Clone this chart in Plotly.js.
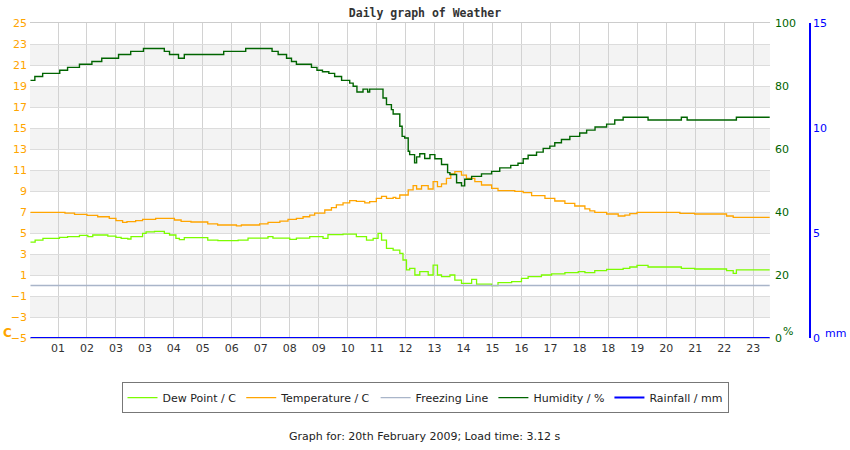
<!DOCTYPE html>
<html>
<head>
<meta charset="utf-8">
<script src="https://cdn.plot.ly/plotly-3.0.1.min.js"></script>
<style>
  html, body { margin: 0; padding: 0; background: #ffffff; }
  #chart { width: 850px; height: 450px; }
</style>
</head>
<body>
<div id="chart"></div>
<script>
// ─── Data (x in grid units: gridline k carries hourLabels[k-1]) ─────────────

const hourLabels = ['01', '02', '03', '03', '04', '05', '06', '07', '08', '09', '10', '11', '12',
                    '13', '14', '15', '16', '17', '18', '18', '19', '20', '21', '22', '23'];

const humTime = [0.05, 0.20, 0.47, 1.06, 1.33, 1.74, 2.17, 2.51, 3.09, 3.51, 3.95, 4.67, 4.85,
                 5.16, 5.36, 6.72, 7.48, 8.39, 8.60, 8.89, 9.06, 9.23, 9.75, 9.94, 10.13, 10.35,
                 10.55, 10.79, 11.07, 11.19, 11.32, 11.53, 11.69, 11.76, 12.22, 12.34, 12.51,
                 12.57, 12.80, 12.88, 12.97, 13.09, 13.14, 13.31, 13.38, 13.49, 13.66, 13.84,
                 14.01, 14.24, 14.45, 14.53, 14.76, 14.93, 15.04, 15.28, 15.62, 15.97, 16.25,
                 16.63, 16.88, 17.06, 17.23, 17.52, 17.75, 17.98, 18.15, 18.38, 18.67, 19.01,
                 19.25, 19.54, 19.94, 20.22, 20.51, 21.37, 22.52, 22.72, 24.42, 25.57];
const humValues = [81.8, 83.0, 84.0, 85.0, 85.9, 86.9, 87.8, 88.8, 90.0, 91.0, 91.9, 91.0, 90.0,
                   88.8, 90.0, 91.0, 91.9, 91.0, 90.0, 88.8, 87.8, 86.9, 85.9, 85.0, 84.5, 84.0,
                   83.0, 81.8, 80.9, 79.9, 78.1, 79.0, 78.1, 79.0, 76.2, 74.1, 72.5,
                   71.1, 67.2, 64.0, 63.5, 59.3, 58.2, 55.6, 57.5, 58.5, 57.0, 58.2,
                   56.9, 55.1, 52.5, 51.9, 49.3, 48.3, 50.4, 51.3, 52.1, 52.9, 54.0,
                   54.8, 55.5, 56.9, 58.0, 59.0, 60.2, 60.9, 62.0, 63.0, 64.0, 65.1,
                   66.0, 67.0, 67.9, 69.2, 70.1, 69.2, 70.1, 69.2, 70.1, 70.1];

const tempTime = [0.05, 1.24, 1.57, 2.00, 2.37, 2.77, 3.00, 3.23, 3.38, 3.68, 3.92, 4.37, 5.02,
                  5.25, 5.59, 6.17, 6.51, 7.16, 7.33, 7.96, 8.25, 8.66, 8.94, 9.23, 9.46, 9.69,
                  9.86, 10.21, 10.44, 10.61, 10.84, 11.07, 11.30, 11.59, 11.76, 11.99, 12.17,
                  12.34, 12.57, 12.66, 12.80, 13.09, 13.26, 13.38, 13.55, 13.78, 13.95, 14.10,
                  14.24, 14.41, 14.56, 14.70, 14.93, 15.10, 15.39, 15.62, 15.97, 16.19, 16.77,
                  17.06, 17.35, 17.81, 18.15, 18.50, 18.84, 19.19, 19.36, 19.53, 19.94, 20.34,
                  20.57, 20.74, 20.99, 22.47, 22.98, 24.08, 24.31, 25.57];
const tempValues = [6.97, 6.90, 6.78, 6.68, 6.55, 6.40, 6.17, 6.02, 6.08, 6.17, 6.29, 6.40, 6.24,
                    6.11, 6.05, 5.86, 5.76, 5.67, 5.76, 5.86, 6.02, 6.14, 6.30, 6.40, 6.55, 6.71,
                    6.90, 7.19, 7.41, 7.67, 7.86, 8.08, 8.02, 7.86, 7.98, 8.30, 8.49,
                    8.30, 8.40, 8.30, 8.62, 9.10, 9.51, 9.19, 9.51, 9.19, 9.89, 9.41,
                    9.67, 10.21, 10.62, 10.84, 10.52, 10.21, 9.89, 9.57, 9.25, 9.03, 8.97,
                    8.84, 8.56, 8.30, 8.05, 7.83, 7.57, 7.29, 7.10, 6.97, 6.81, 6.62,
                    6.71, 6.84, 6.97, 6.87, 6.81, 6.62, 6.49, 6.49];

const dewTime = [0.05, 0.21, 0.48, 1.05, 1.33, 1.74, 2.03, 2.20, 2.72, 3.00, 3.18, 3.41, 3.52,
                 3.92, 4.04, 4.33, 4.67, 4.85, 5.07, 5.19, 5.36, 6.17, 6.52, 7.22, 7.56, 8.25,
                 8.42, 9.00, 9.23, 9.69, 10.15, 10.32, 10.84, 11.30, 11.65, 11.88, 12.05, 12.17,
                 12.34, 12.57, 12.80, 12.91, 13.03, 13.14, 13.32, 13.49, 13.78, 13.95, 14.10,
                 14.24, 14.53, 14.70, 14.93, 15.28, 15.45, 15.97, 16.19, 16.66, 17.00, 17.23,
                 17.69, 18.04, 18.50, 18.96, 19.19, 19.53, 19.94, 20.51, 20.74, 20.99, 21.37,
                 22.52, 22.98, 24.08, 24.31, 24.42, 25.57];
const dewValues = [4.14, 4.33, 4.49, 4.59, 4.65, 4.78, 4.65, 4.81, 4.71, 4.59, 4.49, 4.43, 4.65,
                   4.97, 5.10, 5.16, 4.97, 4.81, 4.49, 4.37, 4.56, 4.33, 4.27, 4.33, 4.52, 4.65,
                   4.52, 4.40, 4.52, 4.65, 4.49, 4.84, 4.90, 4.65, 4.33, 4.49, 4.97, 4.33,
                   3.53, 3.37, 3.06, 2.43, 1.48, 1.63, 1.00, 1.32, 1.00, 1.95, 1.00,
                   0.84, 1.00, 0.52, 0.21, 0.59, 0.14, -0.02, 0.27, 0.37, 0.68, 0.84,
                   1.00, 1.10, 1.22, 1.32, 1.22, 1.41, 1.54, 1.63, 1.76, 1.92, 1.76,
                   1.63, 1.57, 1.41, 1.16, 1.48, 1.48];

const freezeTime = [0.05, 25.57];
const freezeValues = [0, 0];
const rainTime = [0.05, 25.57];
const rainValues = [0, 0];

const tempTicks = [-5, -3, -1, 1, 3, 5, 7, 9, 11, 13, 15, 17, 19, 21, 23, 25];
const humTicks = [0, 20, 40, 60, 80, 100];
const rainTicks = [0, 5, 10, 15];

// ─── Traces ──────────────────────────────────────────────────────────────────

const FONT = 'DejaVu Sans, sans-serif';
const X_DOMAIN_END = 0.9367;

function stepLine(x, y, name, color, axis, width) {
    return {
        type: 'scatter', mode: 'lines',
        x: x, y: y, name: name, yaxis: axis,
        line: { color: color, width: width, shape: 'hv' },
    };
}

const traces = [
    stepLine(dewTime, dewValues, 'Dew Point / C', '#7cfc00', 'y', 1.3),
    stepLine(tempTime, tempValues, 'Temperature / C', '#ffa500', 'y', 1.3),
    stepLine(freezeTime, freezeValues, 'Freezing Line', '#a9b5c9', 'y', 1.3),
    stepLine(humTime, humValues, 'Humidity / %', '#006400', 'y2', 1.4),
    stepLine(rainTime, rainValues, 'Rainfall / mm', '#0000ff', 'y3', 2),
];

// Alternating grey bands between gridlines (23–21, 19–17, ...)
const shapes = [];
for (let v = 23; v > -5; v -= 4) {
    shapes.push({
        type: 'rect', xref: 'paper', yref: 'y', layer: 'below',
        x0: 0, x1: X_DOMAIN_END, y0: v - 2, y1: v,
        fillcolor: '#f3f3f3', line: { width: 0 },
    });
}

function note(text, x, y, color, size) {
    return {
        text: text, xref: 'paper', yref: 'paper', x: x, y: y,
        xanchor: 'center', yanchor: 'middle', showarrow: false,
        font: { family: FONT, size: size, color: color },
    };
}

// ─── Layout ──────────────────────────────────────────────────────────────────

const layout = {
    width: 850, height: 450,
    paper_bgcolor: '#ffffff',
    plot_bgcolor: '#ffffff',
    font: { family: FONT, size: 11, color: '#333333' },
    margin: { l: 30, r: 30, t: 23, b: 112 },
    showlegend: true,
    title: {
        text: '<b>Daily graph of Weather</b>',
        font: { family: 'DejaVu Sans Mono, monospace', size: 11.5, color: '#333333' },
        x: 0.5, xanchor: 'center', y: 0.972, yanchor: 'middle',
    },
    legend: {
        orientation: 'h', x: 0.5, xanchor: 'center', y: -0.14, yanchor: 'top',
        bordercolor: '#777777', borderwidth: 1, bgcolor: '#ffffff',
        font: { family: FONT, size: 11, color: '#222222' },
        itemwidth: 30, traceorder: 'normal',
    },
    xaxis: {
        domain: [0, X_DOMAIN_END],
        range: [0.033, 25.58],
        tickvals: hourLabels.map((_, i) => i + 1),
        ticktext: hourLabels,
        showgrid: true, gridcolor: '#d2d2d2', gridwidth: 1,
        zeroline: false,
        showline: true, linecolor: '#cccccc', mirror: true,
        ticks: '', tickfont: { size: 11, color: '#333333' },
    },
    yaxis: {
        range: [-5, 25],
        tickvals: tempTicks,
        showgrid: true, gridcolor: '#dcdcdc', gridwidth: 1,
        zeroline: false,
        showline: false,
        ticks: '', ticklabelstandoff: 2,
        tickfont: { size: 11, color: '#ffa500' },
    },
    yaxis2: {
        overlaying: 'y', side: 'right', anchor: 'x',
        range: [0, 100], tickvals: humTicks,
        showgrid: false, zeroline: false, showline: false,
        ticks: '', ticklabelstandoff: 4,
        tickfont: { size: 11, color: '#006400' },
    },
    yaxis3: {
        overlaying: 'y', side: 'right', anchor: 'free', position: 0.987,
        range: [0, 15], tickvals: rainTicks,
        showgrid: false, zeroline: false,
        showline: true, linecolor: '#0000ff', linewidth: 2,
        ticks: '', tickfont: { size: 11, color: '#0000ff' },
    },
    shapes: shapes,
    annotations: [
        note('<b>C</b>', -0.029, 0.016, '#ffa500', 12),
        note('%', 0.96, 0.02, '#006400', 11),
        note('mm', 1.019, 0.013, '#0000ff', 11),
        note('Graph for: 20th February 2009; Load time: 3.12 s', 0.5, -0.314, '#222222', 11),
    ],
};

Plotly.newPlot('chart', traces, layout, { staticPlot: true, displayModeBar: false });
</script>
</body>
</html>
